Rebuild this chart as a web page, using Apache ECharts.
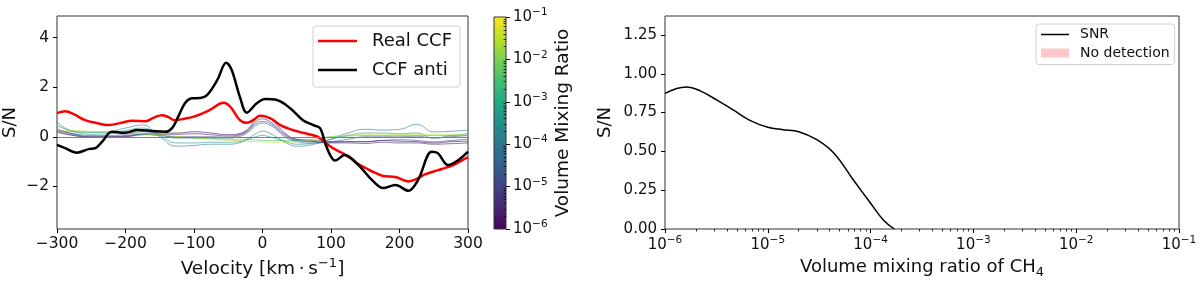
<!DOCTYPE html>
<html><head><meta charset="utf-8">
<script src="https://cdn.jsdelivr.net/npm/echarts@6/dist/echarts.min.js"></script>
<style>html,body{margin:0;padding:0;background:#fff}#c{width:1200px;height:282px}</style>
</head><body><div id="c"></div>
<script>
// ---------- data ----------
const velTicks = [-300, -200, -100, 0, 100, 200, 300];
const snTicksLeft = [-2, 0, 2, 4];
const snTicksRight = [0, 0.25, 0.5, 0.75, 1.0, 1.25];
const logMajor = [1e-6, 1e-5, 1e-4, 1e-3, 1e-2, 1e-1];

const realVel = [-300,-288,-275,-259,-242,-226,-208,-190,-171,-158,-147,-138,-128,-115,-98,-77,-57,-47,-33,-23,-12,-4,11,26,40,59,79,87,97,108,118,128,140,152,164,176,194,213,225,237,250,262,280,296,300];
const realCCF = [0.95,1.03,0.9,0.67,0.55,0.47,0.55,0.65,0.63,0.78,0.87,0.8,0.67,0.72,0.83,1.08,1.37,1.21,0.67,0.56,0.7,0.85,0.75,0.47,0.31,0.16,0.02,-0.13,-0.35,-0.54,-0.68,-0.86,-1.1,-1.28,-1.45,-1.58,-1.62,-1.8,-1.7,-1.52,-1.4,-1.3,-1.12,-0.88,-0.82];

const antiVel = [-300,-288,-271,-254,-244,-234,-220,-201,-182,-161,-142,-132,-123,-113,-103,-91,-81,-66,-53,-45,-33,-23,-8,4,21,40,59,74,84,92,100,106,120,140,160,176,194,213,227,247,256,271,286,300];
const antiCCF = [-0.33,-0.46,-0.64,-0.5,-0.46,-0.2,0.2,0.16,0.27,0.23,0.2,0.35,0.81,1.36,1.55,1.56,1.68,2.29,2.98,2.69,1.61,0.97,1.36,1.52,1.48,1.16,0.67,0.47,0.35,-0.3,-0.8,-0.96,-0.74,-1.14,-1.75,-2.07,-1.95,-2.18,-1.75,-0.6,-0.66,-1.14,-0.94,-0.6];

const thinVel = [-300,-275,-250,-225,-200,-175,-150,-125,-100,-75,-50,-35,-20,-10,0,10,20,35,50,75,100,125,150,175,200,225,250,275,300];
const thinVMR = [1e-6, 3e-6, 1e-5, 3e-5, 1e-4, 3e-4, 3e-3, 3e-2];
const thin1 = [0.28,0.1,0.0,0.0,0.02,0.12,0.15,0.15,0.2,0.15,0.08,0.12,0.35,0.7,0.87,0.75,0.5,0.1,-0.1,-0.15,-0.2,-0.2,-0.2,-0.15,-0.18,-0.2,-0.25,-0.2,-0.18];
const thin2 = [0.22,0.05,-0.03,-0.02,0.0,0.08,0.1,0.1,0.12,0.08,0.03,0.08,0.3,0.6,0.72,0.62,0.4,0.05,-0.12,-0.2,-0.25,-0.25,-0.27,-0.22,-0.25,-0.25,-0.3,-0.28,-0.25];
const thin3 = [0.18,0.05,0.0,0.0,0.05,0.1,0.05,0.0,0.0,0.0,-0.02,0.05,0.25,0.52,0.62,0.55,0.35,0.0,-0.15,-0.2,-0.22,-0.2,-0.2,-0.15,-0.12,-0.15,-0.2,-0.15,-0.1];
const thin4 = [0.3,0.12,0.05,0.05,0.1,0.2,0.1,-0.05,-0.05,-0.05,-0.05,0.0,0.2,0.45,0.55,0.48,0.3,-0.05,-0.2,-0.25,-0.2,-0.1,0.0,0.0,0.0,0.02,-0.05,0.0,0.05];
const thin5 = [0.6,0.22,0.18,0.2,0.35,0.47,0.0,-0.38,-0.35,-0.3,-0.3,-0.25,-0.05,0.12,0.23,0.15,0.0,-0.25,-0.38,-0.3,-0.1,0.15,0.3,0.27,0.3,0.5,0.2,0.22,0.27];
const thin6 = [0.45,0.2,0.1,0.12,0.25,0.35,0.05,-0.25,-0.25,-0.22,-0.22,-0.2,-0.1,0.0,0.05,0.0,-0.08,-0.2,-0.3,-0.25,-0.1,0.05,0.15,0.15,0.12,0.15,-0.05,0.05,0.12];
const thin7 = [0.22,0.2,0.18,0.16,0.14,0.1,0.05,0.0,-0.05,-0.08,-0.1,-0.12,-0.12,-0.13,-0.14,-0.15,-0.15,-0.16,-0.15,-0.1,0.0,0.03,0.05,0.05,0.05,0.05,0.05,0.05,0.05];
const thin8 = [0.27,0.25,0.22,0.2,0.17,0.13,0.08,0.02,-0.05,-0.1,-0.14,-0.16,-0.18,-0.2,-0.21,-0.22,-0.22,-0.22,-0.2,-0.15,0.0,0.07,0.08,0.08,0.09,0.09,0.1,0.1,0.1];
const thinLines = [thin1, thin2, thin3, thin4, thin5, thin6, thin7, thin8];

const vmrGrid = [1e-6,1.3e-6,1.6e-6,2.2e-6,3.2e-6,4.6e-6,6.7e-6,1e-5,1.4e-5,2e-5,3e-5,4.4e-5,6.8e-5,1e-4,1.33e-4,1.7e-4];
const snr     = [0.874,0.905,0.915,0.89,0.83,0.767,0.70,0.655,0.64,0.627,0.575,0.488,0.316,0.166,0.058,0.0];

// ---------- styling helpers ----------
const FONT = 'DejaVu Sans';
const TXT = '#111';
const viridis = ['#440154','#482475','#414487','#355f8d','#2a788e','#21918c','#22a884','#44bf70','#7ad151','#bddf26','#fde725'];
function hex2rgb(h){return [parseInt(h.slice(1,3),16),parseInt(h.slice(3,5),16),parseInt(h.slice(5,7),16)];}
function viridisAt(t){
  t = Math.max(0, Math.min(1, t));
  const p = t * (viridis.length - 1), i = Math.min(Math.floor(p), viridis.length - 2), f = p - i;
  const a = hex2rgb(viridis[i]), b = hex2rgb(viridis[i + 1]);
  return 'rgb(' + a.map((v, k) => Math.round(v + (b[k] - v) * f)).join(',') + ')';
}
function zip(xs, ys){return xs.map((x, i) => [x, ys[i]]);}
const minus = v => String(v).replace('-', '\u2212');
const minorLog = [];
for (let d = -6; d < -1; d++) for (let k = 2; k <= 9; k++) minorLog.push(k * Math.pow(10, d));
const logFmt = v => '{a|10}{b|\u2212' + Math.round(-Math.log10(v)) + '}';
const logRich = {
  a: {fontFamily: FONT, fontSize: 15, color: TXT, lineHeight: 20},
  b: {fontFamily: FONT, fontSize: 10.5, color: TXT, lineHeight: 9, verticalAlign: 'top'}
};
const lineIconL = 'path://M0,0L1,0L1,0ZM0,5.75L39,5.75L39,8.25L0,8.25ZM0,14L1,14L1,14Z';
const lineIconR = 'path://M0,0L1,0L1,0ZM0,3.75L28,3.75L28,5.25L0,5.25ZM0,9L1,9L1,9Z';

const series = [];
thinLines.forEach((arr, i) => {
  series.push({
    type: 'line', xAxisIndex: 0, yAxisIndex: 0, data: zip(thinVel, arr), smooth: 0.5,
    symbol: 'none', silent: true, z: 2,
    lineStyle: {width: 1, color: viridisAt((Math.log10(thinVMR[i]) + 6) / 5), opacity: 0.6}
  });
});
series.push({
  type: 'line', xAxisIndex: 0, yAxisIndex: 0, data: [], symbol: 'none', z: 3,
  markLine: {silent: true, symbol: 'none', label: {show: false},
    lineStyle: {color: '#808080', width: 1, type: 'solid'}, data: [{yAxis: 0}]}
});
series.push({name: 'Real CCF', type: 'line', xAxisIndex: 0, yAxisIndex: 0, data: zip(realVel, realCCF),
  smooth: 0.35, symbol: 'none', z: 4, color: '#ff0000', lineStyle: {width: 2.5, color: '#ff0000'}});
series.push({name: 'CCF anti', type: 'line', xAxisIndex: 0, yAxisIndex: 0, data: zip(antiVel, antiCCF),
  smooth: 0.35, symbol: 'none', z: 5, color: '#000000', lineStyle: {width: 2.5, color: '#000000'}});
series.push({name: 'SNR', type: 'line', xAxisIndex: 2, yAxisIndex: 2, data: zip(vmrGrid, snr),
  smooth: 0.4, symbol: 'none', color: '#000', lineStyle: {width: 1.5, color: '#000'}});
series.push({name: 'No detection', type: 'line', xAxisIndex: 2, yAxisIndex: 2, data: [],
  symbol: 'none', color: 'rgba(255,0,0,0.22)', lineStyle: {width: 0}, areaStyle: {color: 'rgba(255,0,0,0.22)'}});

const tickStyle = {show: true, inside: false, length: 4, lineStyle: {color: '#000', width: 1}};
const minorTick = {show: true, inside: false, length: 2.5, lineStyle: {color: '#000', width: 0.8}, customValues: minorLog};
const gradStops = viridis.map((c, i) => ({offset: i / (viridis.length - 1), color: c}));
const noLine = {show: false, onZero: false};
const hiddenAxis = {axisLine: noLine, axisLabel: {show: false}, axisTick: {show: false}, splitLine: {show: false}};

const option = {
  animation: false,
  backgroundColor: '#fff',
  textStyle: {fontFamily: FONT},
  grid: [
    {left: 57, top: 16, width: 411, height: 213, show: true, borderColor: '#333', borderWidth: 1, backgroundColor: 'transparent', outerBoundsMode: 'none'},
    {left: 494, top: 17, width: 12, height: 212, show: true, borderColor: '#333', borderWidth: 1, outerBoundsMode: 'none',
      backgroundColor: {type: 'linear', x: 0, y: 1, x2: 0, y2: 0, colorStops: gradStops}},
    {left: 665, top: 16, width: 514, height: 213, show: true, borderColor: '#333', borderWidth: 1, backgroundColor: 'transparent', outerBoundsMode: 'none'},
    {left: 665, top: 16, width: 514, height: 213, show: false, outerBoundsMode: 'none'},
    {left: 494, top: 17, width: 12, height: 212, show: false, outerBoundsMode: 'none'}
  ],
  xAxis: [
    {gridIndex: 0, type: 'value', min: -300, max: 300, interval: 100, position: 'bottom',
      axisLine: noLine, splitLine: {show: false}, axisTick: Object.assign({}, tickStyle, {customValues: velTicks}),
      axisLabel: {fontFamily: FONT, fontSize: 15.5, color: TXT, margin: 7, formatter: minus, customValues: velTicks},
      name: '{n|Velocity [km\u2009\u00b7\u2009s}{s|\u22121}{n|]}', nameLocation: 'middle', nameGap: 26,
      nameTextStyle: {rich: {
        n: {fontFamily: FONT, fontSize: 18.5, color: TXT, lineHeight: 24},
        s: {fontFamily: FONT, fontSize: 13, color: TXT, lineHeight: 12, verticalAlign: 'top'}}}},
    Object.assign({gridIndex: 1, type: 'value', min: 0, max: 1}, hiddenAxis),
    {gridIndex: 2, type: 'log', logBase: 10, min: 1e-6, max: 1e-1, position: 'bottom',
      axisLine: noLine, splitLine: {show: false},
      axisTick: Object.assign({}, tickStyle, {customValues: logMajor}),
      axisLabel: {margin: 6, formatter: logFmt, rich: logRich, customValues: logMajor},
      name: '{n|Volume mixing ratio of CH}{s|4}', nameLocation: 'middle', nameGap: 26,
      nameTextStyle: {rich: {
        n: {fontFamily: FONT, fontSize: 18, color: TXT, lineHeight: 24},
        s: {fontFamily: FONT, fontSize: 13, color: TXT, lineHeight: 12, verticalAlign: 'bottom'}}}},
    {gridIndex: 3, type: 'log', logBase: 10, min: 1e-6, max: 1e-1, position: 'bottom',
      axisLine: noLine, splitLine: {show: false}, axisLabel: {show: false}, axisTick: minorTick},
    Object.assign({gridIndex: 4, type: 'value', min: 0, max: 1}, hiddenAxis)
  ],
  yAxis: [
    {gridIndex: 0, type: 'value', min: -3.72, max: 4.87, position: 'left',
      axisLine: noLine, splitLine: {show: false},
      axisTick: Object.assign({}, tickStyle, {customValues: snTicksLeft}),
      axisLabel: {fontFamily: FONT, fontSize: 15.5, color: TXT, margin: 8, formatter: minus, customValues: snTicksLeft},
      name: 'S/N', nameLocation: 'middle', nameRotate: 90, nameGap: 38,
      nameTextStyle: {fontFamily: FONT, fontSize: 18, color: TXT}},
    {gridIndex: 1, type: 'log', logBase: 10, min: 1e-6, max: 1e-1, position: 'right',
      axisLine: noLine, splitLine: {show: false},
      axisTick: Object.assign({}, tickStyle, {customValues: logMajor}),
      axisLabel: {margin: 7, formatter: logFmt, rich: logRich, customValues: logMajor},
      name: 'Volume Mixing Ratio', nameLocation: 'middle', nameRotate: 90, nameGap: 48,
      nameTextStyle: {fontFamily: FONT, fontSize: 18.5, color: TXT}},
    {gridIndex: 2, type: 'value', min: 0, max: 1.372, position: 'left',
      axisLine: noLine, splitLine: {show: false},
      axisTick: Object.assign({}, tickStyle, {customValues: snTicksRight}),
      axisLabel: {fontFamily: FONT, fontSize: 15, color: TXT, margin: 8, formatter: v => v.toFixed(2), customValues: snTicksRight},
      name: 'S/N', nameLocation: 'middle', nameRotate: 90, nameGap: 51,
      nameTextStyle: {fontFamily: FONT, fontSize: 18, color: TXT}},
    Object.assign({gridIndex: 3, type: 'value', min: 0, max: 1}, hiddenAxis),
    {gridIndex: 4, type: 'log', logBase: 10, min: 1e-6, max: 1e-1, position: 'right',
      axisLine: noLine, splitLine: {show: false}, axisLabel: {show: false},
      axisTick: Object.assign({}, minorTick, {inside: true})}
  ],
  legend: [
    {data: [{name: 'Real CCF', icon: lineIconL}, {name: 'CCF anti', icon: lineIconL}], orient: 'vertical', left: 313, top: 26,
      itemWidth: 39, itemHeight: 14, itemGap: 7, padding: [4, 8, 6, 5],
      backgroundColor: '#fff', borderColor: '#d0d0d0', borderWidth: 1, borderRadius: 3,
      textStyle: {fontFamily: FONT, fontSize: 18, color: TXT, lineHeight: 22, padding: [0, 0, 0, 10]}},
    {data: [{name: 'SNR', icon: lineIconR}, {name: 'No detection', icon: 'rect', itemStyle: {color: 'rgba(255,0,0,0.22)'}}],
      orient: 'vertical', left: 1036, top: 24,
      itemWidth: 28, itemHeight: 9, itemGap: 3.5, padding: [3, 5, 4, 5],
      backgroundColor: '#fff', borderColor: '#d0d0d0', borderWidth: 1, borderRadius: 3,
      textStyle: {fontFamily: FONT, fontSize: 14, color: TXT, lineHeight: 15, padding: [0, 0, 0, 6]}}
  ],
  series: series
};
const chart = echarts.init(document.getElementById('c'), null, {renderer: 'canvas'});
chart.setOption(option);
</script>
</body></html>
